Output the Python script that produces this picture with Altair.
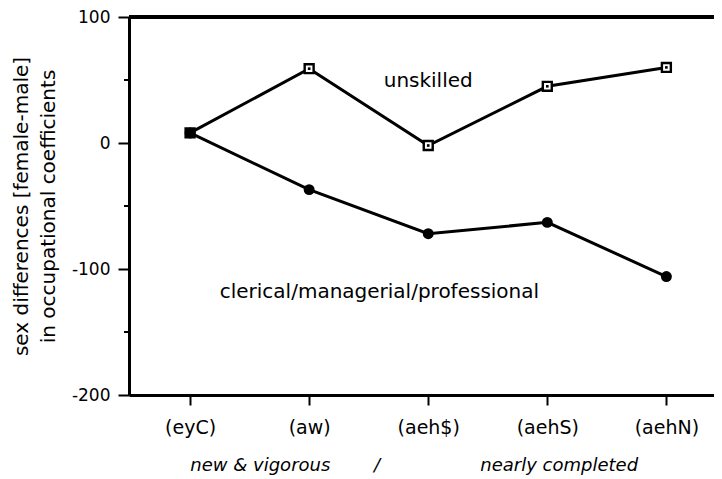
import json
import altair as alt
import pandas as pd

# ---- data ----
stages = ["(eyC)", "(aw)", "(aeh$)", "(aehS)", "(aehN)"]
stage_index = [0, 1, 2, 3, 4]
unskilled = [8, 59, -2, 45, 60]
clerical = [8, -37, -72, -63, -106]

series_labels = ["unskilled", "clerical/managerial/professional"]
label_x = [2.0, 1.59]          # data units (stage index)
label_y = [49, -118]           # data units

y_major = [-200, -100, 0, 100]
y_minor = [-150, -50, 50]

xtitle_parts = ["new & vigorous", "/", "nearly completed"]
xtitle_x = [0.59, 1.57, 3.10]

FONT = "DejaVu Sans"

rows = []
for i, s, u, c in zip(stage_index, stages, unskilled, clerical):
    rows.append({"idx": i, "stage": s, "value": u, "series": "unskilled", "shared": u == c})
    rows.append({"idx": i, "stage": s, "value": c, "series": "clerical", "shared": u == c})
df = pd.DataFrame(rows)

lab_df = pd.DataFrame({"text": series_labels, "x": label_x, "y": label_y})
xt_df = pd.DataFrame({"text": xtitle_parts, "x": xtitle_x})
minor_df = pd.DataFrame({"v": y_minor})

label_expr = json.dumps(stages) + "[datum.value]"

xscale = alt.Scale(domain=[-0.513, 4.40], nice=False, zero=False)
yscale = alt.Scale(domain=[-200, 100], nice=False, zero=False)

xenc = alt.X(
    "idx:Q",
    scale=xscale,
    axis=alt.Axis(
        values=stage_index,
        labelExpr=label_expr,
        title=None,
        tickSize=10,
        labelPadding=13,
        labelFontSize=19,
        labelFont=FONT,
        labelColor="black",
        grid=False,
        labelFlush=False,
        labelOverlap=False,
    ),
)
yenc = alt.Y(
    "value:Q",
    scale=yscale,
    axis=alt.Axis(
        values=y_major,
        labelExpr="datum.value + ''",
        title=["sex differences [female-male]", "in occupational coefficients"],
        titleFont=FONT,
        titleFontSize=20,
        titleFontWeight="normal",
        titleColor="black",
        titleLineHeight=27,
        titlePadding=13,
        tickSize=11,
        labelPadding=8,
        labelFontSize=17,
        labelFont=FONT,
        labelColor="black",
        grid=False,
        labelFlush=False,
    ),
)

base = alt.Chart(df)

top_rule = alt.Chart(df).mark_rule(color="black", strokeWidth=3).encode(
    y=alt.datum(100, scale=yscale)
)

lines = base.mark_line(color="black", strokeWidth=3).encode(
    x=xenc, y=yenc, detail="series:N"
)

circles = base.transform_filter(alt.datum.series == "clerical").mark_point(
    shape="circle", filled=True, color="black", size=120, opacity=1
).encode(x="idx:Q", y="value:Q")

squares = base.transform_filter(alt.datum.series == "unskilled").mark_point(
    shape="square", filled=True, stroke="black", strokeWidth=2.4, size=80, opacity=1
).encode(
    x="idx:Q",
    y="value:Q",
    fill=alt.condition(alt.datum.shared, alt.value("black"), alt.value("white")),
)

dots = base.transform_filter(alt.datum.series == "unskilled").mark_point(
    shape="square", filled=True, color="black", size=7, opacity=1
).encode(x="idx:Q", y="value:Q")

labels = alt.Chart(lab_df).mark_text(
    font=FONT, fontSize=20, color="black", align="center", baseline="middle"
).encode(x="x:Q", y="y:Q", text="text:N")

xtitle = alt.Chart(xt_df).mark_text(
    font=FONT, fontSize=18, fontStyle="italic", color="black", align="center", baseline="middle"
).encode(x="x:Q", y=alt.value(449), text="text:N")

minor = alt.Chart(minor_df).mark_rule(color="black", strokeWidth=2).encode(
    y="v:Q", x=alt.value(-5), x2=alt.value(0)
)

chart = (
    alt.layer(top_rule, lines, minor, circles, squares, dots, labels, xtitle)
    .properties(
        width=585,
        height=378,
        autosize=alt.AutoSizeParams(type="none"),
        padding={"left": 121, "top": 9, "right": 0, "bottom": 80},
        background="white",
    )
    .configure_view(stroke=None)
    .configure_axis(
        domainColor="black",
        domainWidth=3,
        tickColor="black",
        tickWidth=2,
    )
)

chart.save("out.html", embed_options={"renderer": "svg", "actions": False})
